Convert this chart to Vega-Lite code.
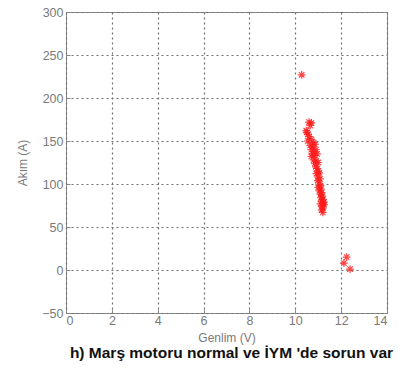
{
  "$schema": "https://vega.github.io/schema/vega-lite/v6.json",
  "autosize": "none",
  "width": 321,
  "height": 301,
  "padding": {"left": 66, "top": 12, "right": 21, "bottom": 61},
  "background": "white",
  "title": {
    "text": "h) Marş motoru normal ve İYM 'de sorun var",
    "orient": "bottom",
    "anchor": "middle",
    "font": "Liberation Sans",
    "fontSize": 15.5,
    "fontWeight": "bold",
    "color": "#111",
    "offset": 2,
    "dx": 5
  },
  "config": {
    "view": {"stroke": "#8a8a8a", "strokeWidth": 1},
    "axis": {
      "grid": true,
      "labelFont": "Liberation Sans",
      "labelFontSize": 12.5,
      "labelColor": "#7a7a7a",
      "titleFont": "Liberation Sans",
      "titleFontSize": 12,
      "titleFontWeight": "normal",
      "titleColor": "#7a7a7a",
      "domain": false,
      "tickColor": "#8a8a8a",
      "tickSize": -4,
      "gridColor": "#707070",
      "gridDash": [2, 3],
      "gridWidth": 1.2,
      "gridOpacity": 1
    }
  },
  "data": {
    "values": [
      {"v": 10.28, "a": 227},
      {"v": 12.24, "a": 15},
      {"v": 12.12, "a": 8},
      {"v": 12.39, "a": 1},
      {"v": 10.6, "a": 172},
      {"v": 10.7, "a": 171},
      {"v": 10.65, "a": 168},
      {"v": 10.5, "a": 160},
      {"v": 10.55, "a": 158},
      {"v": 10.48, "a": 162},
      {"v": 10.6, "a": 155},
      {"v": 10.55, "a": 150},
      {"v": 10.7, "a": 152},
      {"v": 10.8, "a": 148},
      {"v": 10.65, "a": 145},
      {"v": 10.75, "a": 143},
      {"v": 10.85, "a": 146},
      {"v": 10.7, "a": 140},
      {"v": 10.8, "a": 138},
      {"v": 10.9, "a": 140},
      {"v": 10.75, "a": 135},
      {"v": 10.85, "a": 133},
      {"v": 10.7, "a": 132},
      {"v": 10.95, "a": 135},
      {"v": 10.8, "a": 128},
      {"v": 10.9, "a": 127},
      {"v": 10.85, "a": 124},
      {"v": 11.0, "a": 125},
      {"v": 10.9, "a": 120},
      {"v": 10.95, "a": 118},
      {"v": 11.0, "a": 115},
      {"v": 10.92, "a": 112},
      {"v": 11.05, "a": 113},
      {"v": 11.0, "a": 108},
      {"v": 11.08, "a": 106},
      {"v": 10.98, "a": 104},
      {"v": 11.05, "a": 100},
      {"v": 11.1, "a": 98},
      {"v": 11.0, "a": 96},
      {"v": 11.12, "a": 94},
      {"v": 11.05, "a": 92},
      {"v": 11.15, "a": 90},
      {"v": 11.1, "a": 88},
      {"v": 11.18, "a": 86},
      {"v": 11.12, "a": 84},
      {"v": 11.2, "a": 82},
      {"v": 11.15, "a": 80},
      {"v": 11.22, "a": 78},
      {"v": 11.1, "a": 77},
      {"v": 11.25, "a": 76},
      {"v": 11.18, "a": 74},
      {"v": 11.2, "a": 72},
      {"v": 11.25, "a": 79},
      {"v": 11.15, "a": 70},
      {"v": 11.2, "a": 67}
    ]
  },
  "mark": {
    "type": "point",
    "shape": "M-1,0L1,0M0,-1L0,1M-0.7,-0.7L0.7,0.7M-0.7,0.7L0.7,-0.7",
    "filled": false,
    "stroke": "#ff1a1a",
    "strokeWidth": 1.2,
    "size": 60,
    "opacity": 0.8
  },
  "encoding": {
    "x": {
      "field": "v",
      "type": "quantitative",
      "title": "Genlim (V)",
      "scale": {"domain": [0, 14], "nice": false, "zero": false},
      "axis": {"values": [0, 2, 4, 6, 8, 10, 12, 14], "labelPadding": 5, "titlePadding": 6}
    },
    "y": {
      "field": "a",
      "type": "quantitative",
      "title": "Akım (A)",
      "scale": {"domain": [-50, 300], "nice": false, "zero": false},
      "axis": {"values": [-50, 0, 50, 100, 150, 200, 250, 300], "labelPadding": 7, "titlePadding": 12}
    }
  }
}
